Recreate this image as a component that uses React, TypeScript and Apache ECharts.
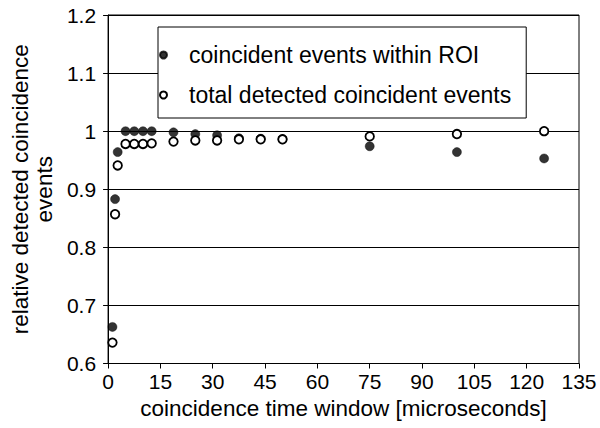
import React, { useEffect, useRef } from "react";
import * as echarts from "echarts";

const timeWindows = [1.25, 2, 2.75, 5, 7.5, 10, 12.5, 18.75, 25, 31.25, 37.5, 43.75, 50, 75, 100, 125];
const withinROI = [0.663, 0.883, 0.964, 1.0, 1.0, 1.0, 1.0, 0.998, 0.995, 0.993, 0.988, 0.987, 0.986, 0.974, 0.964, 0.953];
const totalDetected = [0.636, 0.857, 0.941, 0.978, 0.978, 0.978, 0.979, 0.982, 0.984, 0.984, 0.986, 0.986, 0.986, 0.991, 0.995, 1.0];
const seriesNames = ["coincident events within ROI", "total detected coincident events"];
const xTitle = "coincidence time window [microseconds]";
const yTitle = "relative detected coincidence\nevents";

const FONT = "'Liberation Sans', Arial, sans-serif";

export default function App() {
  const ref = useRef<HTMLDivElement>(null);
  useEffect(() => {
    if (!ref.current) return;
    const chart = echarts.init(ref.current, null, { renderer: "svg" });
    chart.setOption({
      animation: false,
      backgroundColor: "#ffffff",
      textStyle: { fontFamily: FONT, color: "#000" },
      grid: {
        left: 103,
        right: 21,
        top: 15,
        bottom: 64.5,
        show: true,
        borderColor: "#000",
        borderWidth: 1,
      },
      legend: {
        orient: "vertical",
        left: 158,
        top: 27,
        backgroundColor: "#fff",
        borderColor: "#000",
        borderWidth: 1,
        padding: [15, 15, 10, 1],
        itemWidth: 7,
        itemHeight: 7,
        itemGap: 14,
        textStyle: { fontFamily: FONT, fontSize: 23, color: "#000", padding: [0, 0, 0, 17], lineHeight: 26 },
        data: seriesNames,
      },
      xAxis: {
        type: "value",
        min: 0,
        max: 135,
        interval: 15,
        name: xTitle,
        nameLocation: "middle",
        nameGap: 33,
        nameTextStyle: { fontFamily: FONT, fontSize: 22.5, color: "#000" },
        axisLine: { show: true, lineStyle: { color: "#000", width: 1 } },
        axisTick: { show: true, inside: false, length: 5, lineStyle: { color: "#000" } },
        axisLabel: { fontFamily: FONT, fontSize: 21, color: "#000", margin: 7 },
        splitLine: { show: false },
      },
      yAxis: {
        type: "value",
        min: 0.6,
        max: 1.2,
        interval: 0.1,
        name: yTitle,
        nameLocation: "middle",
        nameGap: 48,
        nameTextStyle: { fontFamily: FONT, fontSize: 22.5, color: "#000", lineHeight: 24 },
        axisLine: { show: true, lineStyle: { color: "#000", width: 1 } },
        axisTick: { show: true, inside: false, length: 5, lineStyle: { color: "#000" } },
        axisLabel: {
          fontFamily: FONT,
          fontSize: 21,
          color: "#000",
          margin: 12,
          formatter: (v: number) => String(Math.round(v * 10) / 10),
        },
        splitLine: { show: true, lineStyle: { color: "#000", width: 1 } },
      },
      series: [
        {
          name: seriesNames[0],
          type: "scatter",
          symbol: "circle",
          symbolSize: 9,
          itemStyle: { color: "#000", borderColor: "#000", borderWidth: 0.5 },
          data: timeWindows.map((x, i) => [x, withinROI[i]]),
        },
        {
          name: seriesNames[1],
          type: "scatter",
          symbol: "circle",
          symbolSize: 8.5,
          itemStyle: { color: "#fff", borderColor: "#000", borderWidth: 1.8, opacity: 1 },
          data: timeWindows.map((x, i) => [x, totalDetected[i]]),
        },
      ],
    });
    return () => chart.dispose();
  }, []);
  return (
    <div
      ref={ref}
      style={{ position: "absolute", left: 0, top: 0, width: 600, height: 428 }}
    />
  );
}
